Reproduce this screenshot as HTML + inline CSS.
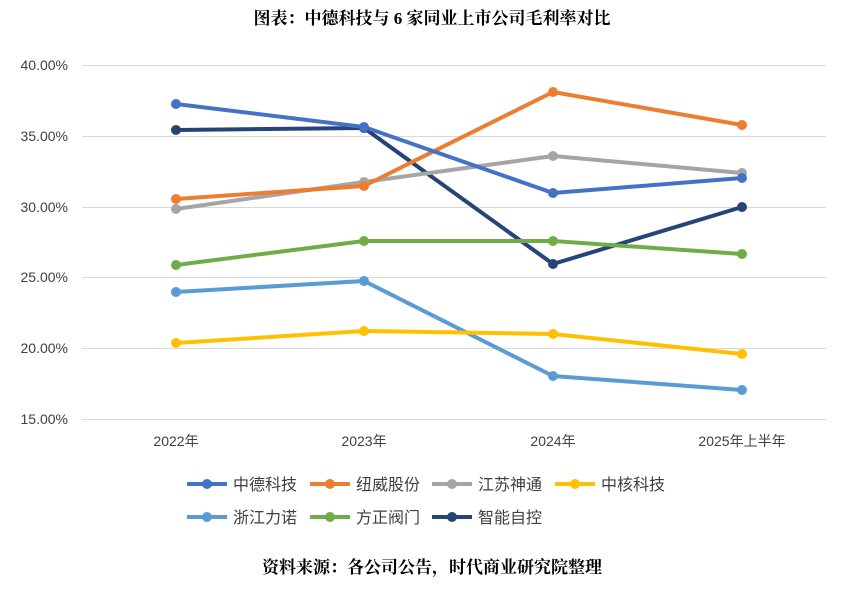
<!DOCTYPE html>
<html><head><meta charset="utf-8"><style>
body{margin:0;background:#fff;}
svg text{font-family:"Liberation Sans","Noto Sans CJK SC",sans-serif;}
</style></head><body>
<svg width="865" height="585" xmlns="http://www.w3.org/2000/svg">
<rect width="865" height="585" fill="#fff"/>
<text x="432" y="24" text-anchor="middle" font-size="17" font-weight="bold" fill="#000" style="font-family:'Liberation Serif','Noto Serif CJK SC',serif">图表：中德科技与 6 家同业上市公司毛利率对比</text>
<g stroke="#d9d9d9" stroke-width="1">
<line x1="82" x2="826" y1="65.5" y2="65.5"/><line x1="82" x2="826" y1="136.5" y2="136.5"/>
<line x1="82" x2="826" y1="207.5" y2="207.5"/><line x1="82" x2="826" y1="277.5" y2="277.5"/>
<line x1="82" x2="826" y1="348.5" y2="348.5"/><line x1="82" x2="826" y1="419.5" y2="419.5"/>
</g>
<g font-size="14" fill="#404040" text-anchor="end">
<text x="68" y="70">40.00%</text><text x="68" y="141">35.00%</text><text x="68" y="212">30.00%</text>
<text x="68" y="282">25.00%</text><text x="68" y="353">20.00%</text><text x="68" y="424">15.00%</text>
</g>
<g font-size="14" fill="#404040" text-anchor="middle">
<text x="176" y="446">2022年</text><text x="364" y="446">2023年</text><text x="553" y="446">2024年</text><text x="742" y="446">2025年上半年</text>
</g>
<g fill="none" stroke-width="4" stroke-linejoin="round">
<polyline stroke="#264478" points="176,130 364,128 553,264 742,207"/>
<polyline stroke="#70AD47" points="176,265 364,241 553,241 742,254"/>
<polyline stroke="#5B9BD5" points="176,292 364,281 553,376 742,390"/>
<polyline stroke="#FFC000" points="176,343 364,331 553,334 742,354"/>
<polyline stroke="#A5A5A5" points="176,209 364,182 553,156 742,173"/>
<polyline stroke="#ED7D31" points="176,199 364,186 553,92 742,125"/>
<polyline stroke="#4472C4" points="176,104 364,127 553,193 742,178"/>
</g>
<g stroke="none">
<g fill="#264478"><circle cx="176" cy="130" r="5"/><circle cx="364" cy="128" r="5"/><circle cx="553" cy="264" r="5"/><circle cx="742" cy="207" r="5"/></g>
<g fill="#70AD47"><circle cx="176" cy="265" r="5"/><circle cx="364" cy="241" r="5"/><circle cx="553" cy="241" r="5"/><circle cx="742" cy="254" r="5"/></g>
<g fill="#5B9BD5"><circle cx="176" cy="292" r="5"/><circle cx="364" cy="281" r="5"/><circle cx="553" cy="376" r="5"/><circle cx="742" cy="390" r="5"/></g>
<g fill="#FFC000"><circle cx="176" cy="343" r="5"/><circle cx="364" cy="331" r="5"/><circle cx="553" cy="334" r="5"/><circle cx="742" cy="354" r="5"/></g>
<g fill="#A5A5A5"><circle cx="176" cy="209" r="5"/><circle cx="364" cy="182" r="5"/><circle cx="553" cy="156" r="5"/><circle cx="742" cy="173" r="5"/></g>
<g fill="#ED7D31"><circle cx="176" cy="199" r="5"/><circle cx="364" cy="186" r="5"/><circle cx="553" cy="92" r="5"/><circle cx="742" cy="125" r="5"/></g>
<g fill="#4472C4"><circle cx="176" cy="104" r="5"/><circle cx="364" cy="127" r="5"/><circle cx="553" cy="193" r="5"/><circle cx="742" cy="178" r="5"/></g>
</g>
<g font-size="16" fill="#404040">
<line x1="187" x2="227" y1="484" y2="484" stroke="#4472C4" stroke-width="4"/><circle cx="207" cy="484" r="5" fill="#4472C4"/><text x="233" y="490">中德科技</text>
<line x1="310" x2="350" y1="484" y2="484" stroke="#ED7D31" stroke-width="4"/><circle cx="330" cy="484" r="5" fill="#ED7D31"/><text x="356" y="490">纽威股份</text>
<line x1="432" x2="472" y1="484" y2="484" stroke="#A5A5A5" stroke-width="4"/><circle cx="452" cy="484" r="5" fill="#A5A5A5"/><text x="478" y="490">江苏神通</text>
<line x1="555" x2="595" y1="484" y2="484" stroke="#FFC000" stroke-width="4"/><circle cx="575" cy="484" r="5" fill="#FFC000"/><text x="601" y="490">中核科技</text>
<line x1="187" x2="227" y1="517" y2="517" stroke="#5B9BD5" stroke-width="4"/><circle cx="207" cy="517" r="5" fill="#5B9BD5"/><text x="233" y="523">浙江力诺</text>
<line x1="310" x2="350" y1="517" y2="517" stroke="#70AD47" stroke-width="4"/><circle cx="330" cy="517" r="5" fill="#70AD47"/><text x="356" y="523">方正阀门</text>
<line x1="432" x2="472" y1="517" y2="517" stroke="#264478" stroke-width="4"/><circle cx="452" cy="517" r="5" fill="#264478"/><text x="478" y="523">智能自控</text>
</g>
<text x="432" y="573" text-anchor="middle" font-size="17" font-weight="bold" fill="#000" style="font-family:'Liberation Serif','Noto Serif CJK SC',serif">资料来源：各公司公告，时代商业研究院整理</text>
</svg>
</body></html>
